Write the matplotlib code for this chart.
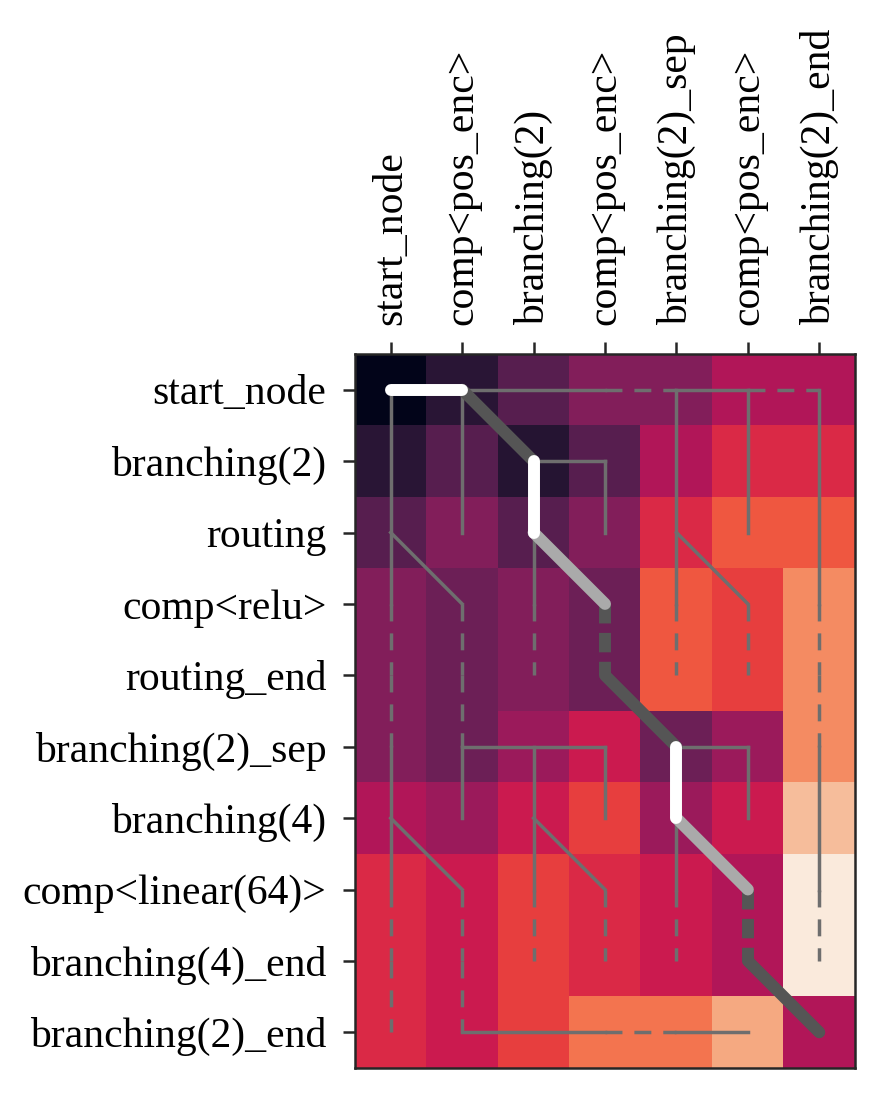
import matplotlib
matplotlib.use("Agg")
import matplotlib.pyplot as plt
import seaborn as sns  # registers the "rocket" colormap
import numpy as np

plt.rcParams['font.family'] = ['Liberation Serif', 'DejaVu Serif']
plt.rcParams['lines.scale_dashes'] = False

# --- data -------------------------------------------------------------------
row_labels = ["start_node", "branching(2)", "routing", "comp<relu>", "routing_end",
              "branching(2)_sep", "branching(4)", "comp<linear(64)>",
              "branching(4)_end", "branching(2)_end"]
col_labels = ["start_node", "comp<pos_enc>", "branching(2)", "comp<pos_enc>",
              "branching(2)_sep", "comp<pos_enc>", "branching(2)_end"]

cost = np.array([
    [0.00, 0.11, 0.23, 0.33, 0.33, 0.44, 0.44],
    [0.11, 0.23, 0.10, 0.23, 0.44, 0.55, 0.55],
    [0.23, 0.33, 0.23, 0.33, 0.55, 0.65, 0.65],
    [0.33, 0.28, 0.33, 0.28, 0.65, 0.60, 0.76],
    [0.33, 0.28, 0.33, 0.28, 0.65, 0.60, 0.76],
    [0.33, 0.28, 0.39, 0.50, 0.28, 0.39, 0.76],
    [0.44, 0.39, 0.50, 0.60, 0.39, 0.50, 0.88],
    [0.55, 0.50, 0.60, 0.55, 0.50, 0.44, 1.00],
    [0.55, 0.50, 0.60, 0.55, 0.50, 0.44, 1.00],
    [0.55, 0.50, 0.60, 0.71, 0.71, 0.83, 0.44],
])

# tree edges (col, row) -> (col, row)
edges_solid = [
    ((0, 0), (1, 0)), ((1, 0), (3, 0)), ((4, 0), (5, 0)),
    ((0, 0), (0, 3)), ((0, 5), (0, 7)), ((0, 2), (1, 3)), ((0, 6), (1, 7)),
    ((1, 0), (1, 2)), ((1, 5), (1, 6)), ((1, 5), (3, 5)),
    ((1, 9), (3, 9)), ((4, 9), (5, 9)),
    ((2, 1), (3, 1)), ((3, 1), (3, 2)), ((2, 1), (2, 3)),
    ((2, 5), (2, 7)), ((2, 6), (3, 7)), ((3, 5), (3, 6)),
    ((4, 0), (4, 3)), ((4, 2), (5, 3)), ((5, 0), (5, 2)),
    ((6, 0), (6, 3)), ((6, 5), (6, 7)),
    ((4, 5), (5, 5)), ((5, 5), (5, 6)), ((4, 5), (4, 7)),
]
edges_dashed = [
    ((3, 0), (4, 0)), ((5, 0), (6, 0)),
    ((0, 3), (0, 4)), ((0, 4), (0, 5)), ((0, 7), (0, 8)), ((0, 8), (0, 9)),
    ((1, 3), (1, 4)), ((1, 4), (1, 5)), ((1, 7), (1, 8)), ((1, 8), (1, 9)),
    ((2, 3), (2, 4)), ((2, 7), (2, 8)),
    ((3, 7), (3, 8)), ((3, 9), (4, 9)),
    ((4, 3), (4, 4)), ((4, 7), (4, 8)),
    ((5, 3), (5, 4)),
    ((6, 3), (6, 4)), ((6, 4), (6, 5)), ((6, 7), (6, 8)),
]

# alignment path
path_cols = [0, 1, 2, 2, 3, 3, 4, 4, 5, 5, 6]
path_rows = [0, 0, 1, 2, 3, 4, 5, 6, 7, 8, 9]
path_kind = ["match", "diag", "match", "soft", "skip", "diag",
             "match", "soft", "skip", "diag"]

# --- figure -----------------------------------------------------------------
W, H = 896, 1099
fig = plt.figure(figsize=(W / 200, H / 200), dpi=200)
ax = fig.add_axes([355 / W, 1 - 1068 / H, 500 / W, 714 / H])

ax.imshow(cost, cmap="rocket", vmin=0, vmax=1, aspect="auto",
          interpolation="nearest", zorder=1)

THIN = '#6e6e6e'
for (a, b) in edges_solid:
    ax.plot([a[0], b[0]], [a[1], b[1]], color=THIN, lw=1.25,
            solid_capstyle='projecting', zorder=2)
for (a, b) in edges_dashed:
    ax.plot([a[0], b[0]], [a[1], b[1]], color=THIN, lw=1.25,
            dashes=(6.1, 4.3), dash_capstyle='butt', zorder=2)

styles = {
    "match": dict(color='white', zorder=6),
    "diag": dict(color='#555555', zorder=4),
    "soft": dict(color='#aaaaaa', zorder=5),
}
for i, kind in enumerate(path_kind):
    xs = path_cols[i:i + 2]
    ys = path_rows[i:i + 2]
    if kind == "skip":
        ax.plot(xs, ys, color='#555555', lw=4.3, dashes=(7.0, 3.4),
                dash_capstyle='butt', zorder=4)
    else:
        ax.plot(xs, ys, lw=4.3, solid_capstyle='round', **styles[kind])

ax.set_xlim(-0.5, len(col_labels) - 0.5)
ax.set_ylim(len(row_labels) - 0.5, -0.5)

ax.xaxis.tick_top()
ax.set_xticks(range(len(col_labels)))
ax.set_xticklabels(col_labels, rotation=90)
ax.set_yticks(range(len(row_labels)))
ax.set_yticklabels(row_labels)
ax.tick_params(axis='both', labelsize=15, length=4.3, width=0.9,
               color='#262626', labelcolor='black', pad=6)
for s in ax.spines.values():
    s.set_color('#262626')
    s.set_linewidth(0.9)

fig.savefig("out.png", dpi=200)
